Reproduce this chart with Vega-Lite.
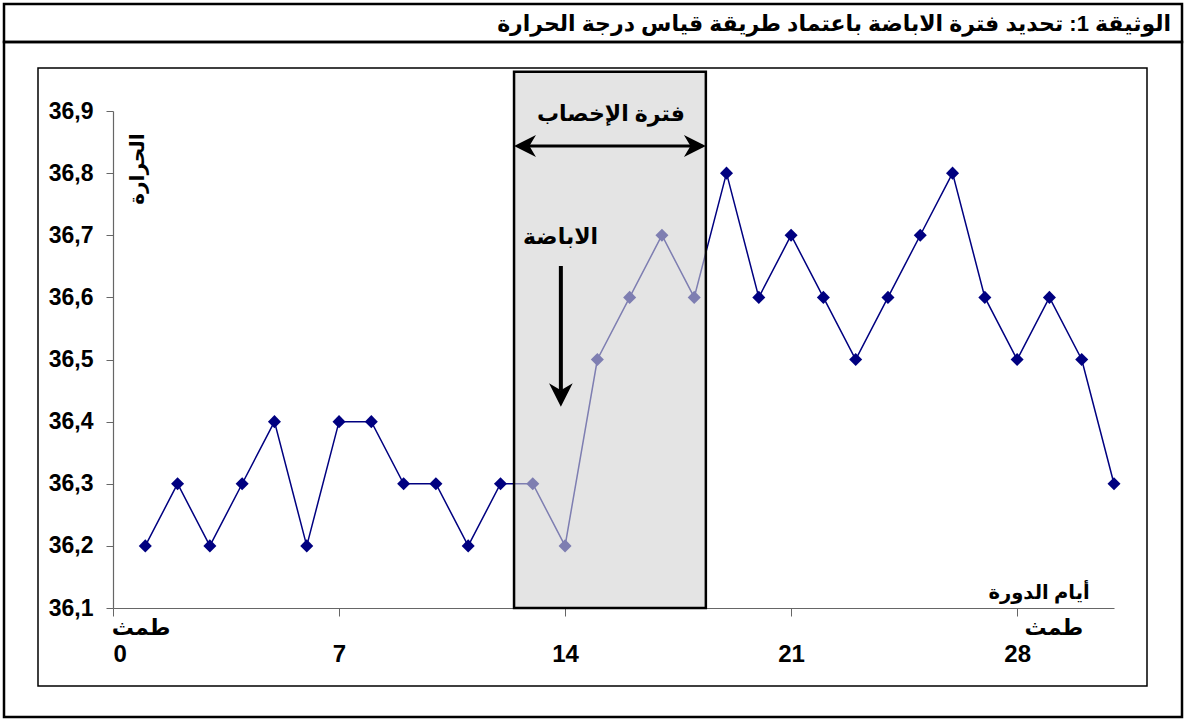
{
  "$schema": "https://vega.github.io/schema/vega-lite/v6.json",
  "padding": {"left": 2, "top": 2, "right": 2, "bottom": 2},
  "background": "white",
  "spacing": 0,
  "bounds": "flush",
  "config": {
    "view": {"stroke": "black", "strokeWidth": 2.5},
    "font": "Liberation Sans, DejaVu Sans",
    "text": {"font": "Liberation Sans, DejaVu Sans", "fontWeight": "bold", "color": "black"}
  },
  "vconcat": [
    {
      "width": 1178,
      "height": 38,
      "data": {"values": [{"t": "الوثيقة 1: تحديد فترة الاباضة باعتماد طريقة قياس درجة الحرارة"}]},
      "mark": {"type": "text", "align": "right", "baseline": "middle", "fontSize": 22, "dx": -11, "dy": 1},
      "encoding": {
        "x": {"datum": 1, "type": "quantitative", "scale": {"domain": [0, 1]}, "axis": null},
        "y": {"datum": 0.5, "type": "quantitative", "scale": {"domain": [0, 1]}, "axis": null},
        "text": {"field": "t"}
      }
    },
    {
      "width": 1178,
      "height": 675,
      "data": {"values": [
        {"day": 1, "temp": 36.2}, {"day": 2, "temp": 36.3}, {"day": 3, "temp": 36.2}, {"day": 4, "temp": 36.3},
        {"day": 5, "temp": 36.4}, {"day": 6, "temp": 36.2}, {"day": 7, "temp": 36.4}, {"day": 8, "temp": 36.4},
        {"day": 9, "temp": 36.3}, {"day": 10, "temp": 36.3}, {"day": 11, "temp": 36.2}, {"day": 12, "temp": 36.3},
        {"day": 13, "temp": 36.3}, {"day": 14, "temp": 36.2}, {"day": 15, "temp": 36.5}, {"day": 16, "temp": 36.6},
        {"day": 17, "temp": 36.7}, {"day": 18, "temp": 36.6}, {"day": 19, "temp": 36.8}, {"day": 20, "temp": 36.6},
        {"day": 21, "temp": 36.7}, {"day": 22, "temp": 36.6}, {"day": 23, "temp": 36.5}, {"day": 24, "temp": 36.6},
        {"day": 25, "temp": 36.7}, {"day": 26, "temp": 36.8}, {"day": 27, "temp": 36.6}, {"day": 28, "temp": 36.5},
        {"day": 29, "temp": 36.6}, {"day": 30, "temp": 36.5}, {"day": 31, "temp": 36.3}
      ]},
      "layer": [
        {
          "data": {"values": [{}]},
          "mark": {"type": "rect", "fillOpacity": 0, "stroke": "black", "strokeWidth": 1.5},
          "encoding": {
            "x": {"datum": -2.3227, "type": "quantitative"},
            "x2": {"datum": 32.022},
            "y": {"datum": 36.9692, "type": "quantitative"},
            "y2": {"datum": 35.9744}
          }
        },
        {
          "mark": {"type": "line", "color": "#000080", "strokeWidth": 1.5},
          "encoding": {
            "x": {"field": "day", "type": "quantitative",
                  "scale": {"domain": [0, 31], "range": [109, 1110], "nice": false, "zero": false},
                  "axis": {"values": [0, 7, 14, 21, 28], "offset": -109, "title": null, "grid": false,
                           "domainColor": "#666666", "domainWidth": 1.2, "tickColor": "#666666", "tickSize": 8,
                           "labelFontSize": 24, "labelFontWeight": "bold", "labelColor": "black",
                           "labelPadding": 26, "labelFont": "Liberation Sans"}},
            "y": {"field": "temp", "type": "quantitative",
                  "scale": {"domain": [36.1, 36.9], "range": [566, 69], "nice": false, "zero": false},
                  "axis": {"values": [36.1, 36.2, 36.3, 36.4, 36.5, 36.6, 36.7, 36.8, 36.9], "offset": -109,
                           "title": null, "grid": false,
                           "labelExpr": "replace(format(datum.value, '.1f'), '.', ',')",
                           "domainColor": "#666666", "domainWidth": 1.2, "tickColor": "#666666", "tickSize": 7,
                           "labelFontSize": 23, "labelFontWeight": "bold", "labelColor": "black",
                           "labelPadding": 13, "labelFont": "Liberation Sans"}}
          }
        },
        {
          "mark": {"type": "point", "shape": "diamond", "filled": true, "size": 170, "color": "#000080", "opacity": 1},
          "encoding": {
            "x": {"field": "day", "type": "quantitative"},
            "y": {"field": "temp", "type": "quantitative"}
          }
        },
        {
          "data": {"values": [{}]},
          "mark": {"type": "rect", "fill": "#d2d2d2", "fillOpacity": 0.6, "stroke": "black", "strokeWidth": 2.5},
          "encoding": {
            "x": {"datum": 12.42, "type": "quantitative"},
            "x2": {"datum": 18.36},
            "y": {"datum": 36.963, "type": "quantitative"},
            "y2": {"datum": 36.1}
          }
        },
        {
          "data": {"values": [{}]},
          "mark": {"type": "rule", "color": "black", "strokeWidth": 3},
          "encoding": {
            "x": {"datum": 12.55, "type": "quantitative"},
            "x2": {"datum": 18.25},
            "y": {"datum": 36.8437, "type": "quantitative"}
          }
        },
        {
          "data": {"values": [{}]},
          "mark": {"type": "point", "shape": "M -1 0 L 1 -1 L 0.4 0 L 1 1 Z", "filled": true, "size": 480, "color": "black", "opacity": 1},
          "encoding": {
            "x": {"datum": 12.76, "type": "quantitative"},
            "y": {"datum": 36.8437, "type": "quantitative"}
          }
        },
        {
          "data": {"values": [{}]},
          "mark": {"type": "point", "shape": "M 1 0 L -1 -1 L -0.4 0 L -1 1 Z", "filled": true, "size": 480, "color": "black", "opacity": 1},
          "encoding": {
            "x": {"datum": 18.02, "type": "quantitative"},
            "y": {"datum": 36.8437, "type": "quantitative"}
          }
        },
        {
          "data": {"values": [{}]},
          "mark": {"type": "rule", "color": "black", "strokeWidth": 4},
          "encoding": {
            "x": {"datum": 13.87, "type": "quantitative"},
            "y": {"datum": 36.6505, "type": "quantitative"},
            "y2": {"datum": 36.45}
          }
        },
        {
          "data": {"values": [{}]},
          "mark": {"type": "point", "shape": "M 0 1 L -1 -1 L 0 -0.4 L 1 -1 Z", "filled": true, "size": 560, "color": "black", "opacity": 1},
          "encoding": {
            "x": {"datum": 13.87, "type": "quantitative"},
            "y": {"datum": 36.4429, "type": "quantitative"}
          }
        },
        {
          "data": {"values": [{}]},
          "mark": {"type": "text", "text": "فترة الإخصاب", "fontSize": 22, "align": "center", "baseline": "middle"},
          "encoding": {
            "x": {"datum": 15.42, "type": "quantitative"},
            "y": {"datum": 36.895, "type": "quantitative"}
          }
        },
        {
          "data": {"values": [{}]},
          "mark": {"type": "text", "text": "الاباضة", "fontSize": 22, "align": "center", "baseline": "middle"},
          "encoding": {
            "x": {"datum": 13.86, "type": "quantitative"},
            "y": {"datum": 36.697, "type": "quantitative"}
          }
        },
        {
          "data": {"values": [{}]},
          "mark": {"type": "text", "text": "الحرارة", "fontSize": 20, "angle": 270, "align": "center", "baseline": "middle"},
          "encoding": {
            "x": {"datum": 0.76, "type": "quantitative"},
            "y": {"datum": 36.8066, "type": "quantitative"}
          }
        },
        {
          "data": {"values": [{}]},
          "mark": {"type": "text", "text": "أيام الدورة", "fontSize": 19.5, "align": "center", "baseline": "middle"},
          "encoding": {
            "x": {"datum": 28.68, "type": "quantitative"},
            "y": {"datum": 36.1242, "type": "quantitative"}
          }
        },
        {
          "data": {"values": [{"d": 0.87}, {"d": 29.14}]},
          "mark": {"type": "text", "text": "طمث", "fontSize": 22, "align": "center", "baseline": "middle"},
          "encoding": {
            "x": {"field": "d", "type": "quantitative"},
            "y": {"datum": 36.0678, "type": "quantitative"}
          }
        }
      ]
    }
  ]
}
